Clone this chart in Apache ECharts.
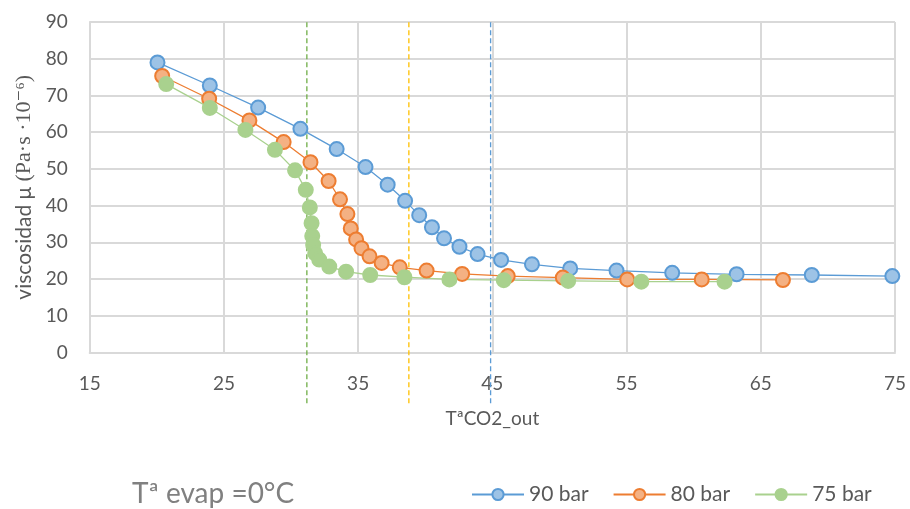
<!DOCTYPE html>
<html>
<head>
<meta charset="utf-8">
<script src="https://cdn.jsdelivr.net/npm/echarts@6/dist/echarts.min.js"></script>
<style>
  html, body { margin: 0; padding: 0; background: #fff; }
  #chart { width: 910px; height: 509px; }
</style>
</head>
<body>
<div id="chart"></div>
<script>
// viscosidad del CO2 frente a Tª de salida, a tres presiones

const x90 = [20.05, 23.95, 27.55, 30.7, 33.4, 35.55, 37.2, 38.5, 39.55, 40.5, 41.4, 42.55, 43.9, 45.65, 47.95, 50.8, 54.25, 58.4, 63.2, 68.8, 74.8];
const y90 = [79.0, 72.7, 66.7, 60.9, 55.4, 50.5, 45.7, 41.3, 37.4, 34.1, 31.1, 28.8, 26.8, 25.2, 24.0, 22.9, 22.3, 21.7, 21.3, 21.1, 20.8];

const x80 = [20.4, 23.9, 26.9, 29.45, 31.45, 32.8, 33.65, 34.2, 34.45, 34.85, 35.25, 35.85, 36.75, 38.1, 40.1, 42.75, 46.15, 50.25, 55.05, 60.6, 66.65];
const y80 = [75.3, 69.1, 63.2, 57.3, 51.8, 46.7, 41.7, 37.7, 33.8, 30.8, 28.4, 26.2, 24.4, 23.2, 22.3, 21.4, 20.8, 20.4, 19.9, 19.9, 19.75];

const x75 = [20.7, 23.95, 26.6, 28.8, 30.3, 31.1, 31.4, 31.53, 31.58, 31.65, 31.8, 32.1, 32.85, 34.1, 35.9, 38.45, 41.8, 45.85, 50.65, 56.1, 62.3];
const y75 = [73.1, 66.6, 60.6, 55.2, 49.6, 44.3, 39.5, 35.2, 31.7, 29.3, 27.0, 25.3, 23.4, 22.0, 21.1, 20.5, 19.9, 19.7, 19.5, 19.3, 19.3];

// Tª de referencia (líneas verticales discontinuas)
const refX = [31.18, 38.78, 44.87];
const refY = [-13.8, 90];

const names = ['90 bar', '80 bar', '75 bar'];

const pair = (xs, ys) => xs.map((v, i) => [v, ys[i]]);

const chart = echarts.init(document.getElementById('chart'));

const font = 'Lato, "Open Sans", sans-serif';

function curve(name, xs, ys, line, fill, border) {
    return {
        name: name,
        type: 'line',
        data: pair(xs, ys),
        symbol: 'circle',
        symbolSize: 14,
        lineStyle: { color: line, width: 1.3 },
        itemStyle: { color: fill, borderColor: border, borderWidth: 2 },
        emphasis: { disabled: true },
        z: 3
    };
}

function refLine(x, color) {
    return {
        type: 'line',
        data: refY.map(y => [x, y]),
        symbol: 'none',
        clip: false,
        lineStyle: { color: color, width: 1.3, type: [5, 3] },
        silent: true,
        z: 2
    };
}

const option = {
    backgroundColor: '#fff',
    animation: false,
    textStyle: { fontFamily: font },
    title: {
        text: 'Tª evap =0°C',
        left: 127,
        top: 475,
        textStyle: { fontFamily: font, fontSize: 28, fontWeight: 'normal', color: '#808080' }
    },
    legend: {
        data: names,
        left: 466,
        top: 479,
        itemWidth: 52,
        itemHeight: 14,
        itemGap: 24,
        textStyle: { fontFamily: font, fontSize: 21, color: '#595959' }
    },
    grid: { left: 89.7, right: 15, top: 22, bottom: 156.5 },
    xAxis: {
        type: 'value',
        min: 15,
        max: 75,
        interval: 10,
        name: 'TªCO2_out',
        nameLocation: 'middle',
        nameGap: 57,
        nameTextStyle: { fontFamily: font, fontSize: 19, color: '#595959' },
        axisLine: { show: true, lineStyle: { color: '#d9d9d9', width: 2 } },
        axisTick: { show: false },
        axisLabel: { fontFamily: font, fontSize: 19, color: '#595959', margin: 22 },
        splitLine: { show: true, lineStyle: { color: '#d9d9d9', width: 2 } }
    },
    yAxis: {
        type: 'value',
        min: 0,
        max: 90,
        interval: 10,
        name: '{a|viscosidad μ }{b|(Pa·s ·10⁻⁶)}',
        nameLocation: 'middle',
        nameGap: 50,
        nameTextStyle: {
            rich: {
                a: { fontFamily: font, fontSize: 21, color: '#595959' },
                b: { fontFamily: '"Liberation Serif", "DejaVu Serif", serif', fontSize: 22, color: '#595959' }
            }
        },
        axisLine: { show: true, lineStyle: { color: '#d9d9d9', width: 2 } },
        axisTick: { show: false },
        axisLabel: { fontFamily: font, fontSize: 19, color: '#595959', margin: 22 },
        splitLine: { show: true, lineStyle: { color: '#d9d9d9', width: 2 } }
    },
    series: [
        refLine(refX[0], '#70ad47'),
        refLine(refX[1], '#ffc000'),
        refLine(refX[2], '#5b9bd5'),
        curve(names[0], x90, y90, '#5b9bd5', '#9dc3e6', '#5b9bd5'),
        curve(names[1], x80, y80, '#ed7d31', '#f4b183', '#ed7d31'),
        curve(names[2], x75, y75, '#a9d18e', '#a9d18e', '#a9d18e')
    ]
};

chart.setOption(option);
</script>
</body>
</html>
